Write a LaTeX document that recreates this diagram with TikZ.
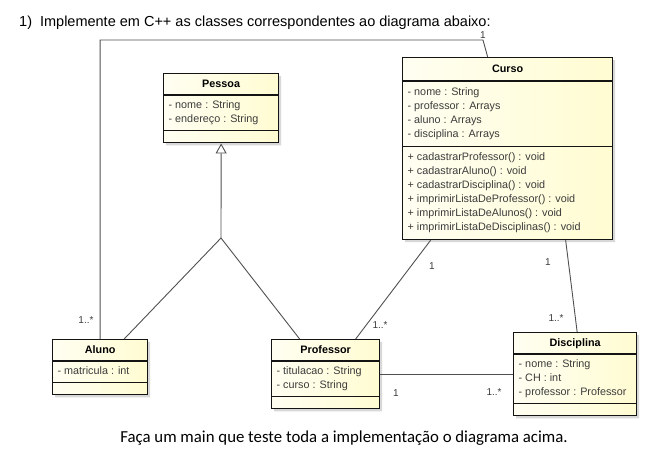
\documentclass[tikz,border=0pt]{standalone}
\usepackage{fontspec}
\setmainfont{Liberation Sans}
\newfontfamily\notefont{Carlito}
\usetikzlibrary{shapes.multipart,arrows.meta,positioning,calc,shadows}
\definecolor{umlfill}{HTML}{FFFCD2}
\definecolor{umlline}{HTML}{141414}
\definecolor{umltext}{HTML}{3C3C3C}
\definecolor{umlconn}{HTML}{505050}
\newcommand{\mem}[1]{\strut#1}
\tikzset{
  umlclass/.style={rectangle split,rectangle split parts=3,draw=umlline,line width=1.3pt,
                   left color=umlfill!30!white,right color=umlfill,
                   drop shadow={shadow xshift=2.5pt,shadow yshift=-2.5pt,fill=black!25,opacity=.6},
                   rectangle split part align={center,left,left},
                   rectangle split empty part height=0pt,
                   align=left,inner xsep=5pt,inner ysep=3pt,anchor=north west,
                   font=\fontsize{10.8}{14}\selectfont,text=umltext},
  assoc/.style={draw=umlconn,line width=0.9pt},
  inherit/.style={-{Triangle[open,length=10pt,width=11pt]},draw=umlconn,line width=0.9pt},
  mult/.style={font=\fontsize{10}{12}\selectfont,text=umltext,inner sep=1pt},
}

\begin{document}
\begin{tikzpicture}[x=1pt,y=-1pt]
  \useasboundingbox[fill=white] (0,0) rectangle (669,455);
  \node[anchor=base west,font=\fontsize{14.5}{16}\selectfont,inner sep=0pt] (task)
    at (19,26) {1)\hspace{8pt}Implemente em C++ as classes correspondentes ao diagrama abaixo:};
  % classes
  \node[umlclass,minimum width=115pt] (pessoa) at (163,73)
    {\mem{\textcolor{black}{\textbf{Pessoa}}}\nodepart{second}\mem{- nome : String}\\\mem{- endereço : String}\nodepart{third}};
  \node[umlclass,minimum width=210pt,inner ysep=4pt] (curso) at (402,57)
    {\mem{\textcolor{black}{\textbf{Curso}}}\nodepart{second}\mem{- nome : String}\\\mem{- professor : Arrays}\\\mem{- aluno : Arrays}\\\mem{- disciplina : Arrays}%
     \nodepart{third}\mem{+ cadastrarProfessor() : void}\\\mem{+ cadastrarAluno() : void}\\\mem{+ cadastrarDisciplina() : void}\\%
     \mem{+ imprimirListaDeProfessor() : void}\\\mem{+ imprimirListaDeAlunos() : void}\\\mem{+ imprimirListaDeDisciplinas() : void}};
  \node[umlclass,minimum width=95pt] (aluno) at (52,339)
    {\mem{\textcolor{black}{\textbf{Aluno}}}\nodepart{second}\mem{- matricula : int}\nodepart{third}};
  \node[umlclass,minimum width=108pt] (professor) at (271,339)
    {\mem{\textcolor{black}{\textbf{Professor}}}\nodepart{second}\mem{- titulacao : String}\\\mem{- curso : String}\nodepart{third}};
  \node[umlclass,minimum width=123pt] (disciplina) at (513,332)
    {\mem{\textcolor{black}{\textbf{Disciplina}}}\nodepart{second}\mem{- nome : String}\\\mem{- CH : int}\\\mem{- professor : Professor}\nodepart{third}};
  % connectors
  \coordinate (bend) at (483,40);
  \coordinate (genjoin) at (221,238);
  \draw[assoc] (aluno.north) |- (bend) -- ([xshift=-20pt]curso.north);
  \draw[inherit] (genjoin) -- (pessoa.south);
  \draw[assoc] (genjoin) -- ([xshift=24pt]aluno.north);
  \draw[assoc] (genjoin) -- ([xshift=-26pt]professor.north);
  \draw[assoc] ([xshift=-77pt]curso.south) -- ([xshift=30pt]professor.north);
  \draw[assoc] ([xshift=58pt]curso.south) -- ([xshift=2pt]disciplina.north);
  \draw[assoc] (professor.east) -- (disciplina.west);
  % multiplicities
  \node[mult] (m1) at (483,35) {1};
  \node[mult] (m2) at (86,320) {1..*};
  \node[mult] (m3) at (432,266) {1};
  \node[mult] (m4) at (380,325) {1..*};
  \node[mult] (m5) at (548,262) {1};
  \node[mult] (m6) at (556,318) {1..*};
  \node[mult] (m7) at (396,393) {1};
  \node[mult] (m8) at (494,392) {1..*};
  \node[anchor=base,font=\notefont\fontsize{16.8}{19}\selectfont,inner sep=0pt] (note)
    at (344,442) {Faça um main que teste toda a implementação o diagrama acima.};
\end{tikzpicture}
\end{document}
